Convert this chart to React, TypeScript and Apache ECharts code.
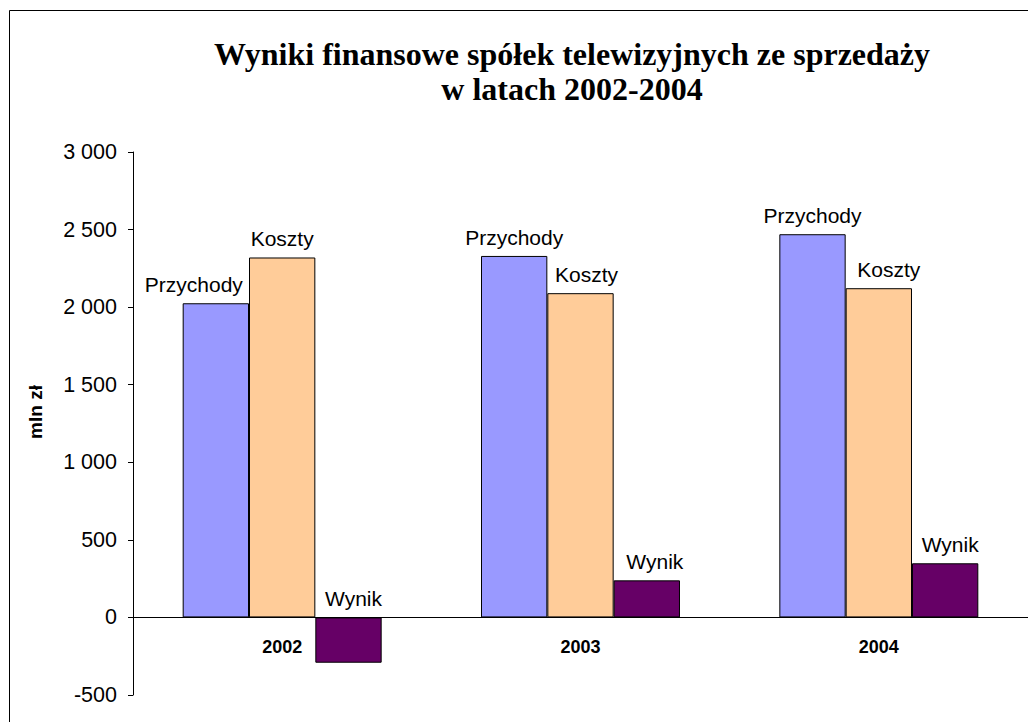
import React, { useEffect, useRef } from "react";
import * as echarts from "echarts";

const categories = ["2002", "2003", "2004"];
const przychody = [2025, 2330, 2470];
const koszty = [2320, 2090, 2122];
const wynik = [-292, 239, 349];
const seriesNames = ["Przychody", "Koszty", "Wynik"];
const titleText = "Wyniki finansowe spółek telewizyjnych ze sprzedaży\nw latach 2002-2004";
const yAxisName = "mln zł";

export default function App() {
  const ref = useRef<HTMLDivElement>(null);
  useEffect(() => {
    document.body.style.margin = "0";
    document.body.style.overflow = "hidden";
    const chart = echarts.init(ref.current!, null, { renderer: "svg", width: 1028, height: 722 });
    const fmt = (v: number) => {
      const s = Math.abs(v).toString().replace(/\B(?=(\d{3})+(?!\d))/g, " ");
      return (v < 0 ? "-" : "") + s;
    };
    const colors = ["#9999FF", "#FFCC99", "#660066"];
    const datas = [przychody, koszty, wynik];
    // label x-shifts (px) to mimic the reference placement
    const labelShift = [
      [-22, 0, 0],
      [0, 6, 10],
      [5, 8, 5],
    ];
    chart.setOption({
      animation: false,
      backgroundColor: "#ffffff",
      title: {
        text: titleText,
        left: 567,
        textAlign: "center",
        top: 31,
        textStyle: {
          fontFamily: "Liberation Serif",
          fontWeight: "bold",
          fontSize: 32,
          lineHeight: 35,
          color: "#000",
        },
      },
      graphic: [
        {
          type: "rect",
          shape: { x: 9.5, y: 10.5, width: 1100, height: 800 },
          style: { fill: "none", stroke: "#000", lineWidth: 1 },
          silent: true,
        },
        {
          type: "text",
          x: 35,
          y: 412,
          rotation: Math.PI / 2,
          style: {
            text: yAxisName,
            fontFamily: "Liberation Sans",
            fontWeight: "bold",
            fontSize: 19,
            fill: "#000",
            align: "center",
            verticalAlign: "middle",
          },
        },
      ],
      grid: { left: 133, right: 0, top: 152, bottom: 27, containLabel: false },
      xAxis: {
        type: "category",
        data: categories,
        offset: -77.6,
        axisLine: { onZero: false, lineStyle: { color: "#000", width: 1 } },
        axisTick: { show: false },
        axisLabel: {
          margin: 21,
          fontFamily: "Liberation Sans",
          fontWeight: "bold",
          fontSize: 18,
          color: "#000",
        },
      },
      yAxis: {
        type: "value",
        min: -500,
        max: 3000,
        interval: 500,
        splitLine: { show: false },
        axisLine: { show: true, lineStyle: { color: "#000", width: 1 } },
        axisTick: { show: true, length: 5, lineStyle: { color: "#000" } },
        axisLabel: {
          margin: 16,
          fontFamily: "Liberation Sans",
          fontSize: 21.5,
          color: "#000",
          formatter: (v: number) => fmt(v),
        },
      },
      series: seriesNames.map((name, i) => ({
        name,
        type: "bar",
        data: datas[i].map((v, j) => ({
          value: v,
          label: { offset: [labelShift[i][j], 0] },
        })),
        barGap: "0%",
        barCategoryGap: "33.3%",
        itemStyle: { color: colors[i], borderColor: "#000", borderWidth: 1 },
        label: {
          show: true,
          position: "top",
          distance: 8,
          formatter: name,
          fontFamily: "Liberation Sans",
          fontSize: 21,
          color: "#000",
        },
      })),
    });
    return () => chart.dispose();
  }, []);
  return <div ref={ref} style={{ width: 1028, height: 722 }} />;
}
